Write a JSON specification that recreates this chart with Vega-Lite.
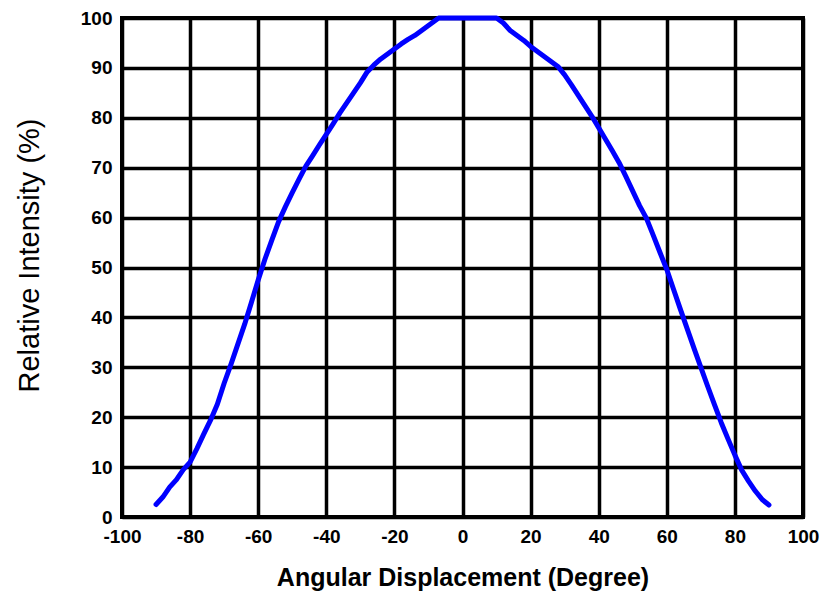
{
  "$schema": "https://vega.github.io/schema/vega-lite/v6.json",
  "width": 681,
  "height": 499,
  "autosize": {"type": "none"},
  "padding": {"left": 122, "top": 18, "right": 21, "bottom": 81},
  "background": "white",
  "config": {
    "view": {"stroke": "black", "strokeWidth": 4},
    "axis": {
      "grid": true, "gridColor": "black", "gridWidth": 3.5, "gridOpacity": 1,
      "domain": false, "ticks": false,
      "labelFont": "Liberation Sans", "labelFontWeight": "bold", "labelFontSize": 19, "labelColor": "black",
      "titleFont": "Liberation Sans", "titleColor": "black"
    }
  },
  "data": {"values": [
    {"x": -90, "y": 2.5}, {"x": -88, "y": 4}, {"x": -86, "y": 6}, {"x": -84, "y": 7.5}, {"x": -82, "y": 9.5},
    {"x": -80, "y": 11}, {"x": -78, "y": 13.7}, {"x": -76, "y": 16.6}, {"x": -74, "y": 19.4}, {"x": -72, "y": 22.6},
    {"x": -70, "y": 26.8}, {"x": -68, "y": 30.6}, {"x": -66, "y": 34.6}, {"x": -64, "y": 38.6}, {"x": -62, "y": 43},
    {"x": -60, "y": 47.5}, {"x": -58, "y": 51.7}, {"x": -56, "y": 55.5}, {"x": -54, "y": 59.2}, {"x": -52, "y": 62.2},
    {"x": -50, "y": 65}, {"x": -48, "y": 67.7}, {"x": -46, "y": 70.3}, {"x": -44, "y": 72.4}, {"x": -42, "y": 74.6},
    {"x": -40, "y": 76.7}, {"x": -38, "y": 78.8}, {"x": -36, "y": 81}, {"x": -34, "y": 83}, {"x": -32, "y": 85},
    {"x": -30, "y": 87}, {"x": -28, "y": 89.2}, {"x": -26, "y": 90.6}, {"x": -24, "y": 91.8}, {"x": -22, "y": 92.8},
    {"x": -20, "y": 93.8}, {"x": -18, "y": 94.8}, {"x": -16, "y": 95.7}, {"x": -14, "y": 96.5}, {"x": -12, "y": 97.5},
    {"x": -10, "y": 98.5}, {"x": -8, "y": 99.5}, {"x": -7, "y": 100}, {"x": 0, "y": 100}, {"x": 10, "y": 100},
    {"x": 12, "y": 99}, {"x": 14, "y": 97.5}, {"x": 16, "y": 96.5}, {"x": 18, "y": 95.5}, {"x": 20, "y": 94.3},
    {"x": 22, "y": 93.3}, {"x": 24, "y": 92.3}, {"x": 26, "y": 91.3}, {"x": 28, "y": 90.3}, {"x": 30, "y": 88.6},
    {"x": 32, "y": 86.6}, {"x": 34, "y": 84.5}, {"x": 36, "y": 82.4}, {"x": 38, "y": 80.3}, {"x": 40, "y": 78},
    {"x": 42, "y": 75.7}, {"x": 44, "y": 73.4}, {"x": 46, "y": 71}, {"x": 48, "y": 68.2}, {"x": 50, "y": 65.3},
    {"x": 52, "y": 62.4}, {"x": 54, "y": 59.9}, {"x": 56, "y": 56.5}, {"x": 58, "y": 53}, {"x": 60, "y": 49.6},
    {"x": 62, "y": 45.6}, {"x": 64, "y": 41.6}, {"x": 66, "y": 37.7}, {"x": 68, "y": 33.8}, {"x": 70, "y": 30},
    {"x": 72, "y": 26.2}, {"x": 74, "y": 22.5}, {"x": 76, "y": 18.9}, {"x": 78, "y": 15.6}, {"x": 80, "y": 12.4},
    {"x": 82, "y": 9.4}, {"x": 84, "y": 7.2}, {"x": 86, "y": 5.2}, {"x": 88, "y": 3.5}, {"x": 90, "y": 2.4}
  ]},
  "mark": {"type": "line", "color": "#0000FF", "strokeWidth": 5, "strokeJoin": "round", "strokeCap": "round"},
  "encoding": {
    "x": {"field": "x", "type": "quantitative",
      "scale": {"domain": [-100, 100], "nice": false, "zero": false},
      "axis": {"values": [-100, -80, -60, -40, -20, 0, 20, 40, 60, 80, 100], "labelExpr": "'' + datum.value", "labelPadding": 10, "labelBound": false, "labelFlush": false, "labelOverlap": false,
        "title": "Angular Displacement (Degree)", "titleFontWeight": "bold", "titleFontSize": 25, "titlePadding": 19}},
    "y": {"field": "y", "type": "quantitative",
      "scale": {"domain": [0, 100], "nice": false},
      "axis": {"values": [0, 10, 20, 30, 40, 50, 60, 70, 80, 90, 100], "labelPadding": 10, "labelFlush": false, "labelOverlap": false,
        "title": "Relative Intensity (%)", "titleFontWeight": "normal", "titleFontSize": 29, "titlePadding": 36, "titleY": 237}}
  }
}
